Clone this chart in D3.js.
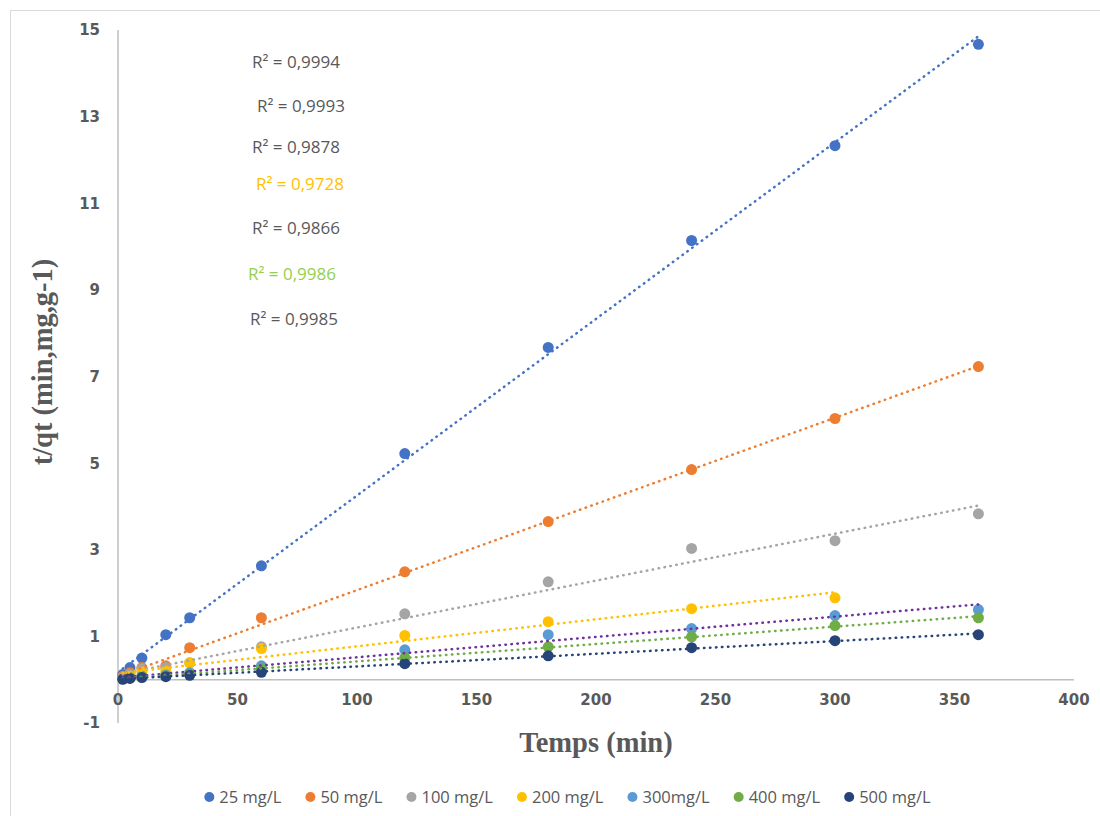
<!DOCTYPE html>
<html>
<head>
<meta charset="utf-8">
<script src="https://cdn.jsdelivr.net/npm/d3@7"></script>
<style>
  html, body { margin: 0; padding: 0; background: #ffffff; }
  svg { display: block; }
</style>
</head>
<body>
<svg id="chart" width="1100" height="816"></svg>
<script>
// Contact time (min) for each sampling point
const times = [2, 5, 10, 20, 30, 60, 120, 180, 240, 300, 360];

// t/qt values per initial concentration
const c25  = [0.12, 0.28, 0.50, 1.04, 1.43, 2.63, 5.22, 7.67, 10.14, 12.33, 14.67];
const c50  = [0.08, 0.16, 0.28, 0.32, 0.74, 1.43, 2.49, 3.65, 4.85, 6.03, 7.23];
const c100 = [0.05, 0.12, 0.25, 0.28, 0.39, 0.76, 1.52, 2.26, 3.03, 3.21, 3.83];
const c200 = [0.03, 0.08, 0.18, 0.20, 0.39, 0.72, 1.02, 1.34, 1.64, 1.89];
const c300 = [0.02, 0.05, 0.08, 0.11, 0.16, 0.32, 0.69, 1.04, 1.18, 1.48, 1.62];
const c400 = [0.02, 0.04, 0.07, 0.09, 0.13, 0.25, 0.51, 0.76, 0.99, 1.25, 1.43];
const c500 = [0.01, 0.03, 0.05, 0.07, 0.10, 0.17, 0.37, 0.55, 0.74, 0.90, 1.04];

const seriesNames = ["25 mg/L", "50 mg/L", "100 mg/L", "200 mg/L", "300mg/L", "400 mg/L", "500 mg/L"];
const seriesValues = [c25, c50, c100, c200, c300, c400, c500];
const markerColors = ["#4472C4", "#ED7D31", "#A5A5A5", "#FFC000", "#5B9BD5", "#70AD47", "#264478"];
const trendColors  = ["#4472C4", "#ED7D31", "#A5A5A5", "#FFC000", "#7030A0", "#70AD47", "#264478"];

// Coefficients of determination shown on the chart
const r2Labels = ["R² = 0,9994", "R² = 0,9993", "R² = 0,9878", "R² = 0,9728", "R² = 0,9866", "R² = 0,9986", "R² = 0,9985"];
const r2Colors = ["#595959", "#595959", "#595959", "#FFC000", "#595959", "#92D050", "#595959"];

const xTicks = [0, 50, 100, 150, 200, 250, 300, 350, 400];
const yTicks = [-1, 1, 3, 5, 7, 9, 11, 13, 15];

const svg = d3.select("#chart");

// chart frame
svg.append("rect")
  .attr("x", 10.5).attr("y", 10.5)
  .attr("width", 1100).attr("height", 820)
  .attr("fill", "none").attr("stroke", "#d9d9d9").attr("stroke-width", 1);

const x = d3.scaleLinear().domain([0, 400]).range([118, 1074]);
const y = d3.scaleLinear().domain([-1, 15]).range([723, 30]);

// axes lines
svg.append("line")
  .attr("x1", x(0)).attr("x2", x(0))
  .attr("y1", y(15)).attr("y2", y(-1))
  .attr("stroke", "#bfbfbf").attr("stroke-width", 1.5);
svg.append("line")
  .attr("x1", x(0)).attr("x2", x(400))
  .attr("y1", y(0)).attr("y2", y(0))
  .attr("stroke", "#bfbfbf").attr("stroke-width", 1.5);

const tickFont = "'DejaVu Sans', Verdana, sans-serif";

svg.append("g").selectAll("text")
  .data(xTicks).join("text")
  .attr("x", d => x(d)).attr("y", y(0) + 25)
  .attr("text-anchor", "middle")
  .attr("font-family", tickFont).attr("font-weight", "bold")
  .attr("font-size", 15).attr("fill", "#595959")
  .text(d => d);

svg.append("g").selectAll("text")
  .data(yTicks).join("text")
  .attr("x", 100).attr("y", d => y(d))
  .attr("dy", "0.36em")
  .attr("text-anchor", "end")
  .attr("font-family", tickFont).attr("font-weight", "bold")
  .attr("font-size", 15).attr("fill", "#595959")
  .text(d => d);

// axis titles
svg.append("text")
  .attr("x", 596).attr("y", 752)
  .attr("text-anchor", "middle")
  .attr("font-family", "'Liberation Serif', 'Times New Roman', serif")
  .attr("font-weight", "bold").attr("font-size", 28.5)
  .attr("fill", "#595959")
  .text("Temps (min)");

svg.append("text")
  .attr("transform", "translate(52,362) rotate(-90)")
  .attr("text-anchor", "middle")
  .attr("font-family", "'Liberation Serif', 'Times New Roman', serif")
  .attr("font-weight", "bold").attr("font-size", 28.5)
  .attr("fill", "#595959")
  .text("t/qt (min,mg,g-1)");

// series data
const series = seriesNames.map((name, i) => ({
  name,
  marker: markerColors[i],
  trend: trendColors[i],
  points: seriesValues[i].map((v, j) => ({ t: times[j], v }))
}));

// markers
series.forEach(s => {
  svg.append("g").selectAll("circle")
    .data(s.points).join("circle")
    .attr("cx", d => x(d.t)).attr("cy", d => y(d.v))
    .attr("r", 5.5)
    .attr("fill", s.marker);
});

// least-squares linear trendlines over each series' time span
function linFit(pts) {
  const mt = d3.mean(pts, p => p.t), mv = d3.mean(pts, p => p.v);
  let sxy = 0, sxx = 0;
  pts.forEach(p => { sxy += (p.t - mt) * (p.v - mv); sxx += (p.t - mt) ** 2; });
  const b = sxy / sxx;
  return { a: mv - b * mt, b };
}

const line = d3.line().x(d => x(d[0])).y(d => y(d[1]));
series.forEach(s => {
  const f = linFit(s.points);
  const t0 = d3.min(s.points, p => p.t), t1 = d3.max(s.points, p => p.t);
  svg.append("path")
    .datum([[t0, f.a + f.b * t0], [t1, f.a + f.b * t1]])
    .attr("d", line)
    .attr("fill", "none")
    .attr("stroke", s.trend)
    .attr("stroke-width", 2.5)
    .attr("stroke-linecap", "round")
    .attr("stroke-dasharray", "0.5,5.5");
});

// R² annotations
const r2Pos = [[252, 62], [257, 106], [252, 147], [256, 184], [252, 228], [248, 274], [250, 319]];
svg.append("g").selectAll("text")
  .data(r2Labels).join("text")
  .attr("x", (d, i) => r2Pos[i][0]).attr("y", (d, i) => r2Pos[i][1])
  .attr("dy", "0.35em")
  .attr("font-family", "'Open Sans', sans-serif")
  .attr("font-size", 17)
  .attr("fill", (d, i) => r2Colors[i])
  .text(d => d);

// legend
const legend = svg.append("g");
const items = legend.selectAll("g").data(series).join("g");
items.append("circle").attr("r", 5).attr("fill", d => d.marker);
items.append("text")
  .attr("x", 10).attr("dy", "0.35em")
  .attr("font-family", "'Open Sans', sans-serif")
  .attr("font-size", 16.5).attr("fill", "#595959")
  .text(d => d.name);
const gap = 29;
let cursor = 0;
const offsets = [];
items.each(function () {
  const w = d3.select(this).select("text").node().getComputedTextLength();
  offsets.push(cursor);
  cursor += 10 + w + gap;
});
const total = cursor - gap;
const start = 565 - total / 2 + 5;
items.attr("transform", (d, i) => `translate(${start + offsets[i]},797)`);
</script>
</body>
</html>
